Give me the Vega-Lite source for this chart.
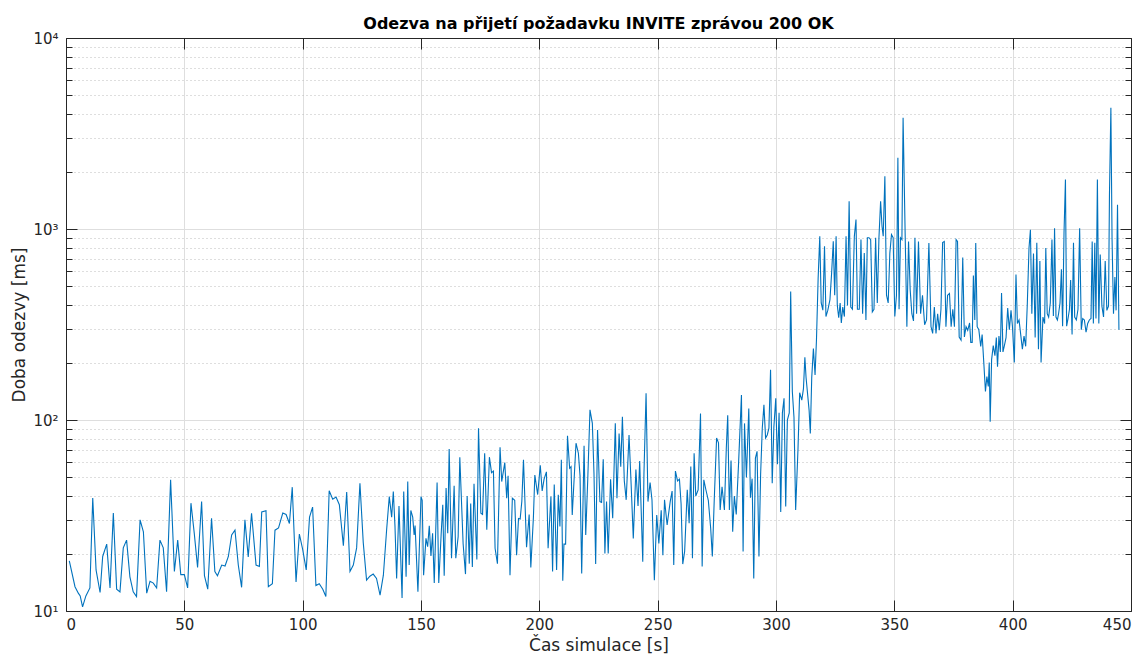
{
  "$schema": "https://vega.github.io/schema/vega-lite/v6.json",
  "width": 1065,
  "height": 573,
  "autosize": {"type": "none"},
  "padding": {"left": 66, "top": 38, "right": 15, "bottom": 44},
  "background": "white",
  "title": {
    "text": "Odezva na přijetí požadavku INVITE zprávou 200 OK",
    "font": "DejaVu Sans",
    "fontSize": 16,
    "fontWeight": "bold",
    "color": "#000000",
    "anchor": "middle",
    "frame": "group",
    "baseline": "alphabetic",
    "offset": 10,
    "dy": 24
  },
  "config": {
    "view": {"stroke": null},
    "axis": {
      "labelFont": "DejaVu Sans",
      "labelFontSize": 15,
      "labelColor": "#262626",
      "titleFont": "DejaVu Sans",
      "titleFontSize": 17,
      "titleFontWeight": "normal",
      "titleColor": "#262626",
      "domainColor": "#262626",
      "domainWidth": 1,
      "tickColor": "#262626",
      "tickWidth": 1,
      "gridColor": "#dedede",
      "gridWidth": 1
    }
  },
  "data": {
    "values": [
      {"t":1.4,"ms":18.3},{"t":3.8,"ms":13.4},{"t":5.2,"ms":12.4},{"t":6,"ms":12},{"t":7,"ms":10.5},{"t":8.4,"ms":12},{"t":10.1,"ms":13.2},{"t":11.3,"ms":39},{"t":12.7,"ms":16.4},{"t":14.4,"ms":12.5},{"t":15.5,"ms":19.3},{"t":17.2,"ms":22.4},{"t":18.6,"ms":13.2},{"t":20,"ms":32.6},{"t":21.4,"ms":13},{"t":22.8,"ms":12.6},{"t":24.2,"ms":21.4},{"t":25.6,"ms":23.5},{"t":27,"ms":15.1},{"t":28.4,"ms":12.6},{"t":29.8,"ms":11.9},{"t":31.3,"ms":30},{"t":32.7,"ms":26},{"t":34.1,"ms":12.4},{"t":35.5,"ms":14.3},{"t":36.9,"ms":14},{"t":38.3,"ms":13.2},{"t":39.7,"ms":23.5},{"t":41.1,"ms":21.4},{"t":42.5,"ms":12.6},{"t":44.2,"ms":48.6},{"t":45.8,"ms":16.1},{"t":47.2,"ms":23.5},{"t":48.5,"ms":15.5},{"t":50,"ms":15.5},{"t":51.4,"ms":13.2},{"t":52.8,"ms":36.7},{"t":54.2,"ms":25.5},{"t":55.6,"ms":16.9},{"t":57.3,"ms":37.4},{"t":58.5,"ms":15.3},{"t":59.9,"ms":13},{"t":61.5,"ms":30.6},{"t":62.9,"ms":16.1},{"t":64,"ms":15.3},{"t":65.8,"ms":17.4},{"t":67.2,"ms":17.2},{"t":68.6,"ms":19.3},{"t":70,"ms":25},{"t":71.4,"ms":26.5},{"t":72.8,"ms":17.4},{"t":74.2,"ms":13.3},{"t":75.6,"ms":30},{"t":77,"ms":19.2},{"t":78.4,"ms":32.5},{"t":80.3,"ms":17.4},{"t":81.7,"ms":17.1},{"t":82.7,"ms":33},{"t":84.5,"ms":33.5},{"t":85.5,"ms":13.4},{"t":87.2,"ms":13.9},{"t":88.3,"ms":26.5},{"t":89.8,"ms":27.2},{"t":91.6,"ms":32.6},{"t":93,"ms":32},{"t":94.4,"ms":28.7},{"t":95.6,"ms":44.5},{"t":97.2,"ms":14.2},{"t":98.6,"ms":25.3},{"t":100,"ms":21},{"t":101.5,"ms":16.4},{"t":102.9,"ms":31},{"t":104.2,"ms":35},{"t":105.6,"ms":13.6},{"t":107,"ms":13.9},{"t":108.5,"ms":13},{"t":109.8,"ms":11.9},{"t":111.2,"ms":42.6},{"t":112.7,"ms":38.5},{"t":114.1,"ms":39.5},{"t":115.5,"ms":36},{"t":117.2,"ms":22},{"t":118.6,"ms":42},{"t":120,"ms":16.1},{"t":121.4,"ms":17.4},{"t":122.8,"ms":21.4},{"t":124.2,"ms":46.7},{"t":125.6,"ms":22.8},{"t":127,"ms":14.5},{"t":128.4,"ms":15.2},{"t":129.8,"ms":15.6},{"t":131.2,"ms":14.8},{"t":132.7,"ms":12.1},{"t":134.1,"ms":15.4},{"t":135.5,"ms":26.9},{"t":136.6,"ms":39.7},
      {"t":137.6,"ms":31},{"t":138.3,"ms":42.2},{"t":139,"ms":27.9},{"t":139.7,"ms":14.8},{"t":140.7,"ms":35.5},{"t":142,"ms":11.7},{"t":142.7,"ms":42.2},{"t":143.7,"ms":15.1},{"t":144.4,"ms":47.6},{"t":145,"ms":17.4},{"t":145.7,"ms":33.6},{"t":146.5,"ms":31},{"t":147.1,"ms":25},{"t":147.5,"ms":28},{"t":148.7,"ms":12.6},{"t":150,"ms":39.7},{"t":150.5,"ms":38},{"t":151.1,"ms":15.4},{"t":152.1,"ms":24},{"t":152.8,"ms":21.7},{"t":153.5,"ms":27.9},{"t":154.2,"ms":19.4},{"t":154.9,"ms":25.5},{"t":155.6,"ms":14},{"t":156.8,"ms":47},{"t":157.5,"ms":14},{"t":158.5,"ms":25},{"t":159.2,"ms":36},{"t":159.8,"ms":15.3},{"t":160.6,"ms":44},{"t":161.3,"ms":25.5},{"t":161.9,"ms":70.4},{"t":162.9,"ms":18.9},{"t":164,"ms":45.2},{"t":164.7,"ms":18.9},{"t":165.7,"ms":24.5},{"t":166.4,"ms":63.9},{"t":167.2,"ms":35},{"t":167.8,"ms":22.5},{"t":168.8,"ms":15.6},{"t":169.5,"ms":40},{"t":170.4,"ms":17.7},{"t":171,"ms":36.5},{"t":171.7,"ms":17},{"t":172.4,"ms":46.3},{"t":173.6,"ms":18.6},{"t":174.3,"ms":90.6},{"t":175.3,"ms":32.5},{"t":176,"ms":32},{"t":176.9,"ms":67},{"t":177.8,"ms":26.6},{"t":178.9,"ms":63.9},{"t":179.8,"ms":53},{"t":180.6,"ms":54},{"t":181.3,"ms":21.3},{"t":182.3,"ms":17.7},{"t":183.4,"ms":72},{"t":184.1,"ms":47.6},{"t":185.4,"ms":59.8},{"t":186.2,"ms":39},{"t":186.8,"ms":51},{"t":187.6,"ms":15.4},{"t":188.6,"ms":39},{"t":189.6,"ms":38},{"t":190.4,"ms":19.6},{"t":191.2,"ms":30.5},{"t":191.9,"ms":30.3},{"t":192.6,"ms":37.5},{"t":193.3,"ms":61.9},{"t":194.6,"ms":21.6},{"t":195.7,"ms":32},{"t":196.4,"ms":16.9},{"t":197.5,"ms":31},{"t":198.1,"ms":51.5},{"t":199.3,"ms":40.7},{"t":200.4,"ms":58},
      {"t":201.2,"ms":42.5},{"t":202,"ms":49},{"t":203,"ms":53.5},{"t":203.7,"ms":21.3},{"t":204.9,"ms":39.7},{"t":205.6,"ms":16.1},{"t":206.3,"ms":46},{"t":207.3,"ms":16.4},{"t":208,"ms":40.6},{"t":208.7,"ms":27.7},{"t":209.3,"ms":61.9},{"t":209.9,"ms":14.4},{"t":210.4,"ms":22.4},{"t":211.1,"ms":22.4},{"t":211.9,"ms":82.6},{"t":212.8,"ms":55.9},{"t":213.4,"ms":57},{"t":213.9,"ms":31.8},{"t":215.5,"ms":75.6},{"t":216.5,"ms":67},{"t":217.2,"ms":51},{"t":217.9,"ms":15.7},{"t":218.9,"ms":73.2},{"t":219.6,"ms":25},{"t":220.5,"ms":50.6},{"t":221.4,"ms":113},{"t":222.4,"ms":96},{"t":223.1,"ms":52},{"t":223.8,"ms":17.6},{"t":224.6,"ms":88.7},{"t":225.6,"ms":37.4},{"t":226.3,"ms":37},{"t":227,"ms":62.3},{"t":227.7,"ms":20},{"t":228.4,"ms":37.4},{"t":229.1,"ms":20},{"t":230.1,"ms":49},{"t":231,"ms":30.6},{"t":232.1,"ms":96},{"t":232.8,"ms":38.9},{"t":233.7,"ms":85},{"t":234.4,"ms":57},{"t":235.1,"ms":104},{"t":235.9,"ms":48},{"t":236.7,"ms":38.2},{"t":237.9,"ms":83.5},{"t":238.8,"ms":45.7},{"t":239.7,"ms":24},{"t":240.8,"ms":55},{"t":241.7,"ms":35.5},{"t":242.4,"ms":61},{"t":243.7,"ms":18.1},{"t":244.2,"ms":52},{"t":245.1,"ms":138},{"t":245.9,"ms":37.4},{"t":246.8,"ms":47},{"t":247.6,"ms":38.2},{"t":248.6,"ms":14.5},{"t":249.6,"ms":31.8},{"t":250.5,"ms":22.6},{"t":251.5,"ms":33.7},{"t":252.2,"ms":19.6},{"t":252.9,"ms":38.2},{"t":254,"ms":28.2},{"t":255.3,"ms":37.4},{"t":256.1,"ms":42.5},{"t":256.8,"ms":17.4},{"t":257.5,"ms":54},{"t":258.4,"ms":48},{"t":259.2,"ms":49},{"t":259.9,"ms":36.3},{"t":260.6,"ms":17.6},{"t":261.4,"ms":20.5},
      {"t":262.5,"ms":43.1},{"t":263.3,"ms":28.8},{"t":264,"ms":57},{"t":264.7,"ms":18.9},{"t":265.4,"ms":67},{"t":266.1,"ms":40},{"t":267.1,"ms":43},{"t":268.1,"ms":108},{"t":268.8,"ms":17.1},{"t":269.5,"ms":48.6},{"t":270.4,"ms":43},{"t":271.4,"ms":38},{"t":272.4,"ms":27.1},{"t":273.1,"ms":19.3},{"t":273.9,"ms":38},{"t":274.9,"ms":80.5},{"t":275.7,"ms":76},{"t":276.4,"ms":33.8},{"t":277.2,"ms":44.7},{"t":278.2,"ms":33.8},{"t":279,"ms":71.1},{"t":279.6,"ms":106},{"t":280.3,"ms":33.8},{"t":281,"ms":61.3},{"t":281.7,"ms":26},{"t":282.4,"ms":40},{"t":283.2,"ms":32},{"t":284.2,"ms":60},{"t":285.4,"ms":135},{"t":286.1,"ms":20.5},{"t":286.7,"ms":96},{"t":287.5,"ms":50},{"t":288.5,"ms":115},{"t":289.2,"ms":39.2},{"t":289.9,"ms":49.3},{"t":290.6,"ms":14.8},{"t":291.3,"ms":63.2},{"t":292,"ms":68.5},{"t":292.8,"ms":19.3},{"t":293.5,"ms":52},{"t":294.2,"ms":90.6},{"t":294.9,"ms":120},{"t":295.6,"ms":80.5},{"t":296.3,"ms":83.5},{"t":297,"ms":90.6},{"t":297.7,"ms":183},{"t":298.4,"ms":46.6},{"t":299.1,"ms":92},{"t":299.9,"ms":130},{"t":300.6,"ms":58.7},{"t":301.3,"ms":109},{"t":302,"ms":33},{"t":302.7,"ms":109},{"t":303.4,"ms":130},{"t":304.1,"ms":35.2},{"t":304.8,"ms":100},{"t":305.6,"ms":109},{"t":306.2,"ms":471},{"t":306.9,"ms":141},{"t":307.6,"ms":103},{"t":308.3,"ms":33.8},{"t":309.3,"ms":71},{"t":310,"ms":139},{"t":310.9,"ms":127},{"t":311.6,"ms":146},{"t":312.2,"ms":213},{"t":312.7,"ms":167},{"t":313.3,"ms":139},{"t":314,"ms":112},{"t":314.5,"ms":85},{"t":315.1,"ms":167},{"t":315.8,"ms":237},{"t":316.5,"ms":172},{"t":317.1,"ms":263},{"t":317.8,"ms":550},
      {"t":318.5,"ms":916},{"t":319.1,"ms":410},{"t":319.8,"ms":376},{"t":320.5,"ms":811},{"t":321.1,"ms":348},{"t":321.9,"ms":376},{"t":322.8,"ms":427},{"t":323.5,"ms":588},{"t":324.2,"ms":862},{"t":324.8,"ms":450},{"t":325.4,"ms":916},{"t":325.9,"ms":398},{"t":326.5,"ms":343},{"t":327.1,"ms":410},{"t":327.6,"ms":322},{"t":328.2,"ms":390},{"t":328.9,"ms":348},{"t":329.6,"ms":916},{"t":330.2,"ms":398},{"t":330.9,"ms":1397},{"t":331.6,"ms":390},{"t":332.3,"ms":380},{"t":333.1,"ms":916},{"t":333.8,"ms":1120},{"t":334.4,"ms":380},{"t":335.2,"ms":380},{"t":335.9,"ms":880},{"t":336.6,"ms":360},{"t":337.3,"ms":748},{"t":338,"ms":334},{"t":338.6,"ms":900},{"t":339.3,"ms":900},{"t":340,"ms":880},{"t":340.7,"ms":368},{"t":341.4,"ms":380},{"t":342.1,"ms":900},{"t":342.8,"ms":410},{"t":343.5,"ms":900},{"t":344.2,"ms":1397},{"t":344.8,"ms":1030},{"t":345.3,"ms":916},{"t":346,"ms":1890},{"t":346.7,"ms":450},{"t":347.4,"ms":410},{"t":348.1,"ms":748},{"t":348.8,"ms":935},{"t":349.5,"ms":900},{"t":350.2,"ms":348},{"t":350.9,"ms":450},{"t":351.5,"ms":2360},{"t":352,"ms":380},{"t":352.6,"ms":900},{"t":353.2,"ms":880},{"t":353.7,"ms":3820},{"t":354.6,"ms":900},{"t":355.3,"ms":308},{"t":356,"ms":860},{"t":356.7,"ms":480},{"t":357.4,"ms":360},{"t":358.1,"ms":330},{"t":358.7,"ms":900},{"t":359.4,"ms":360},{"t":360.2,"ms":860},{"t":361.1,"ms":360},{"t":361.9,"ms":450},{"t":362.8,"ms":315},{"t":363.6,"ms":334},{"t":364.6,"ms":845},{"t":365.5,"ms":308},{"t":366.2,"ms":284},{"t":366.9,"ms":390},{"t":367.6,"ms":284},{"t":368.3,"ms":360},{"t":369,"ms":295},{"t":369.7,"ms":380},{"t":370.4,"ms":850},{"t":371.1,"ms":860},{"t":371.8,"ms":308},{"t":372.5,"ms":450},{"t":373.3,"ms":460},{"t":374,"ms":308},{"t":374.7,"ms":380},{"t":375.4,"ms":308},{"t":376.1,"ms":880},{"t":376.7,"ms":860},{"t":377.4,"ms":272},{"t":378.2,"ms":262},{"t":378.9,"ms":710},{"t":379.6,"ms":272},{"t":380.3,"ms":308},{"t":381,"ms":295},{"t":381.8,"ms":322},{"t":382.3,"ms":255},{"t":382.9,"ms":255},{"t":383.4,"ms":570},{"t":384,"ms":334},{"t":384.4,"ms":845},{"t":385,"ms":308},
      {"t":385.7,"ms":297},{"t":386.5,"ms":243},{"t":387.1,"ms":280},{"t":387.9,"ms":190},{"t":388.5,"ms":141},{"t":389.1,"ms":169},{"t":389.7,"ms":150},{"t":390.1,"ms":200},{"t":390.5,"ms":98},{"t":391.1,"ms":207},{"t":391.8,"ms":245},{"t":392.5,"ms":217},{"t":393.1,"ms":270},{"t":393.6,"ms":190},{"t":394.2,"ms":275},{"t":394.8,"ms":227},{"t":395.3,"ms":462},{"t":395.9,"ms":227},{"t":396.5,"ms":245},{"t":397.2,"ms":270},{"t":397.9,"ms":386},{"t":398.6,"ms":297},{"t":399.3,"ms":375},{"t":399.9,"ms":310},{"t":400.7,"ms":200},{"t":401.4,"ms":577},{"t":402,"ms":320},{"t":402.7,"ms":334},{"t":403.4,"ms":280},{"t":404.1,"ms":235},{"t":404.8,"ms":275},{"t":405.5,"ms":243},{"t":406.2,"ms":410},{"t":406.9,"ms":795},{"t":407.5,"ms":990},{"t":408.1,"ms":360},{"t":408.8,"ms":745},{"t":409.5,"ms":270},{"t":410.2,"ms":846},{"t":410.9,"ms":235},{"t":411.5,"ms":680},{"t":412,"ms":200},{"t":412.8,"ms":346},{"t":413.5,"ms":320},{"t":414,"ms":795},{"t":414.6,"ms":360},{"t":415.2,"ms":346},{"t":415.9,"ms":410},{"t":416.6,"ms":880},{"t":417.2,"ms":350},{"t":417.7,"ms":1010},{"t":418.3,"ms":346},{"t":418.9,"ms":334},{"t":419.4,"ms":360},{"t":420,"ms":410},{"t":420.6,"ms":615},{"t":421.1,"ms":310},{"t":421.7,"ms":960},{"t":422.3,"ms":1815},{"t":422.8,"ms":310},{"t":423.4,"ms":340},{"t":424,"ms":380},{"t":424.5,"ms":540},{"t":425.1,"ms":280},{"t":425.7,"ms":846},{"t":426.2,"ms":346},{"t":426.9,"ms":334},{"t":427.6,"ms":380},{"t":428.3,"ms":1010},{"t":429,"ms":297},{"t":429.6,"ms":340},{"t":430.3,"ms":334},{"t":431,"ms":288},{"t":431.7,"ms":320},{"t":432.4,"ms":334},{"t":433.1,"ms":340},{"t":433.6,"ms":860},{"t":434.1,"ms":320},{"t":434.7,"ms":846},{"t":435.2,"ms":340},{"t":435.8,"ms":1815},{"t":436.4,"ms":320},{"t":437,"ms":735},{"t":437.7,"ms":395},{"t":438.4,"ms":346},{"t":439.1,"ms":680},{"t":439.8,"ms":375},{"t":440.5,"ms":395},{"t":440.9,"ms":1515},{"t":441.5,"ms":4310},{"t":442,"ms":880},{"t":442.6,"ms":360},{"t":443.2,"ms":560},{"t":443.7,"ms":375},{"t":444.3,"ms":1340},{"t":444.9,"ms":297}
    ]
  },
  "layer": [
    {
      "mark": {"type": "point", "opacity": 0},
      "encoding": {
        "x": {
          "field": "t", "type": "quantitative",
          "scale": {"domain": [0, 450], "nice": false, "zero": false},
          "axis": {"orient": "top", "values": [0,50,100,150,200,250,300,350,400,450], "labels": false, "grid": false, "tickSize": -11, "title": null, "domain": true}
        },
        "y": {
          "field": "ms", "type": "quantitative",
          "scale": {"type": "log", "domain": [10, 10000], "nice": false},
          "axis": {"orient": "left", "values": [20,30,40,50,60,70,80,90,200,300,400,500,600,700,800,900,2000,3000,4000,5000,6000,7000,8000,9000], "labels": false, "grid": true, "gridColor": "#bdbdbd", "gridDash": [1, 3], "tickSize": -6, "domain": false, "title": null}
        }
      }
    },
    {
      "mark": {"type": "point", "opacity": 0},
      "encoding": {
        "x": {"field": "t", "type": "quantitative", "axis": null},
        "y": {
          "field": "ms", "type": "quantitative",
          "axis": {"orient": "right", "values": [10, 100, 1000, 10000], "labels": false, "grid": false, "tickSize": -11, "domain": true, "title": null}
        }
      }
    },
    {
      "mark": {"type": "point", "opacity": 0},
      "encoding": {
        "x": {"field": "t", "type": "quantitative", "axis": null},
        "y": {
          "field": "ms", "type": "quantitative",
          "axis": {"orient": "right", "values": [20,30,40,50,60,70,80,90,200,300,400,500,600,700,800,900,2000,3000,4000,5000,6000,7000,8000,9000], "labels": false, "grid": false, "tickSize": -6, "domain": false, "title": null}
        }
      }
    },
    {
      "mark": {"type": "line", "color": "#0072BD", "strokeWidth": 1.1},
      "encoding": {
        "x": {
          "field": "t", "type": "quantitative",
          "axis": {"orient": "bottom", "values": [0,50,100,150,200,250,300,350,400,450], "grid": true, "tickSize": -11, "labelPadding": 17, "title": "Čas simulace [s]", "titlePadding": 5}
        },
        "y": {
          "field": "ms", "type": "quantitative",
          "axis": {
            "orient": "left", "values": [10, 100, 1000, 10000], "grid": true, "tickSize": -11, "labelPadding": 19,
            "labelExpr": "datum.value == 10 ? '10¹' : datum.value == 100 ? '10²' : datum.value == 1000 ? '10³' : '10⁴'",
            "title": "Doba odezvy [ms]", "titlePadding": 4
          }
        }
      }
    }
  ],
  "resolve": {"axis": {"x": "independent", "y": "independent"}}
}
